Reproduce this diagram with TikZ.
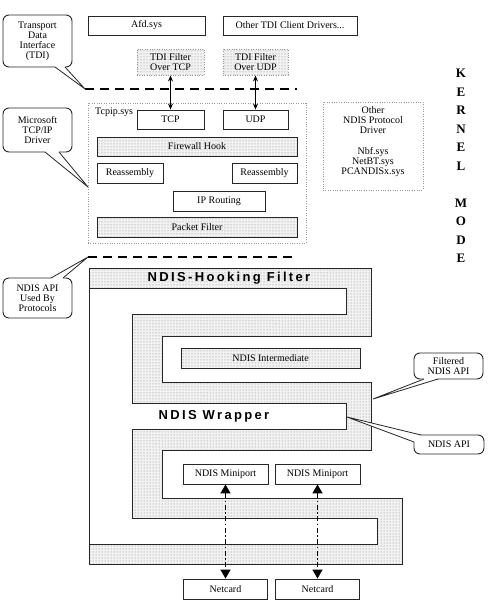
\documentclass[tikz,border=0pt]{standalone}
\usepackage{fontspec}
\setmainfont{Liberation Serif}
\newfontfamily\hookfont[LetterSpace=18]{Liberation Sans}
\usetikzlibrary{patterns,arrows.meta,calc}
\begin{document}
\begin{tikzpicture}[x=1pt,y=-1pt,
  line/.style={draw=black!85, line width=0.9pt},
  smalltext/.style={font=\fontsize{10}{10}\selectfont, align=center},
  wbox/.style={line, fill=white, inner sep=0pt, smalltext},
  hatch/.style={preaction={fill=black!5}, pattern=dots, pattern color=black!50},
  dbox/.style={wbox, hatch},
  dotbox/.style={draw=gray!80, line width=0.9pt, dash pattern=on 1pt off 1.4pt, inner sep=0pt, smalltext},
  ddbox/.style={dotbox, hatch},
  bubble/.style={line, fill=white, rounded corners=6pt, inner sep=0pt, smalltext},
  bigtitle/.style={font=\hookfont\bfseries\fontsize{13}{13}\selectfont, inner sep=0pt},
  kdash/.style={draw=black, line width=1.7pt, dash pattern=on 9pt off 6pt},
  tdiarrow/.style={draw=black, line width=0.9pt, {Stealth[width=5pt,length=6pt]}-{Stealth[width=5pt,length=6pt]}},
  nicarrow/.style={draw=black, line width=1.5pt, dash pattern=on 5pt off 2.5pt on 1.5pt off 2.5pt,
     {Triangle[width=10pt,length=9pt]}-{Triangle[width=10pt,length=9pt]}},
  wedge/.style={fill=white},
  wedgeline/.style={draw=black!85, line width=0.8pt}
]
\useasboundingbox (0,0) rectangle (500,600);

% ---------- top: TDI clients ----------
\node[wbox, minimum width=117pt, minimum height=19pt] (afd) at (146.5,25.5) {Afd.sys};
\node[wbox, minimum width=134pt, minimum height=19pt] (otdi) at (290,25.5) {Other TDI Client Drivers...};
\node[ddbox, minimum width=67pt, minimum height=26pt] (ftcp) at (170.5,62) {TDI Filter\\Over TCP};
\node[ddbox, minimum width=65pt, minimum height=26pt] (fudp) at (255.5,62) {TDI Filter\\Over UDP};

% ---------- Tcpip.sys ----------
\node[dotbox, minimum width=218pt, minimum height=140pt] (tcpip) at (197,173) {};
\node[smalltext, anchor=west, inner sep=0pt] (tcpiplbl) at (95,112) {Tcpip.sys};
\node[wbox, minimum width=67pt, minimum height=19pt] (tcp) at (170.5,119.5) {TCP};
\node[wbox, minimum width=65pt, minimum height=19pt] (udp) at (255.5,119.5) {UDP};
\node[dbox, minimum width=200pt, minimum height=19pt] (fw) at (197,146.5) {Firewall Hook};
\node[wbox, minimum width=66pt, minimum height=20pt] (reasl) at (130,173) {Reassembly};
\node[wbox, minimum width=65pt, minimum height=20pt] (reasr) at (264.5,173) {Reassembly};
\node[wbox, minimum width=92pt, minimum height=20pt] (iprt) at (219,201) {IP Routing};
\node[dbox, minimum width=200pt, minimum height=20pt] (pf) at (197,227) {Packet Filter};

\draw[tdiarrow] (ftcp.south) -- (tcp.north);
\draw[tdiarrow] (fudp.south) -- (udp.north);

% ---------- other NDIS protocol driver ----------
\node[dotbox, minimum width=100pt, minimum height=88pt] (ondis) at (373,146) {};
\node[smalltext, inner sep=0pt] (ondistxt) at (373,142) {Other\\NDIS Protocol\\Driver\\[11pt]Nbf.sys\\NetBT.sys\\PCANDISx.sys};

% ---------- KERNEL MODE ----------
\node[font=\bfseries\fontsize{13}{18.5}\selectfont, align=center, inner sep=0pt] (kmode) at (461,166)
  {K\\E\\R\\N\\E\\L\\[18.5pt]M\\O\\D\\E};

% ---------- NDIS meander ----------
\filldraw[line, hatch] (89,268) -- (371,268) -- (371,336) -- (162,336) -- (162,382) -- (371,382)
  -- (371,450) -- (162,450) -- (162,498) -- (402,498) -- (402,564) -- (89,564) -- (89,544)
  -- (377,544) -- (377,518) -- (132,518) -- (132,429) -- (346,429) -- (346,403) -- (132,403)
  -- (132,314) -- (346,314) -- (346,288) -- (89,288) -- cycle;
\draw[line] (89,288) -- (89,544);
\node[bigtitle] (hook) at (229,278) {NDIS-Hooking Filter};
\node[bigtitle] (wrap) at (214,416) {NDIS Wrapper};
\node[dbox, minimum width=179pt, minimum height=20pt] (inter) at (270.5,358) {NDIS Intermediate};
\node[wbox, minimum width=85pt, minimum height=20pt] (mp1) at (225.5,474) {NDIS Miniport};
\node[wbox, minimum width=85pt, minimum height=20pt] (mp2) at (317.5,474) {NDIS Miniport};
\node[wbox, minimum width=84pt, minimum height=20pt] (nc1) at (225.5,589) {Netcard};
\node[wbox, minimum width=84pt, minimum height=20pt] (nc2) at (317.5,589) {Netcard};
\draw[nicarrow] (mp1.south) -- (nc1.north);
\draw[nicarrow] (mp2.south) -- (nc2.north);

% ---------- callouts ----------
% TDI
\node[bubble, minimum width=69pt, minimum height=52pt] (ctdi) at (37.5,41) {Transport\\Data\\Interface\\(TDI)};
\coordinate (ttdi) at (85,89);
\coordinate (etdi) at (297,89);
\fill[wedge] (55,66.5) -- (ttdi) -- (65,66.5) -- (64,64) -- (56,64) -- cycle;
\draw[wedgeline] (55,67) -- (ttdi) -- (65,67);
\draw[kdash] (ttdi) -- (etdi);

% Microsoft TCP/IP
\node[bubble, minimum width=69pt, minimum height=44pt] (cms) at (37.5,130) {Microsoft\\TCP/IP\\Driver};
\coordinate (tms) at (88,187);
\fill[wedge] (45,151.5) -- (tms) -- (59,151.5) -- (58,149) -- (46,149) -- cycle;
\draw[wedgeline] (45,152) -- (tms) -- (59,152);

% NDIS API used by protocols
\node[bubble, minimum width=69pt, minimum height=40pt] (cused) at (37.5,298) {NDIS API\\Used By\\Protocols};
\coordinate (tused) at (88,257);
\coordinate (eused) at (297,257);
\fill[wedge] (51,278.5) -- (tused) -- (63,278.5) -- (62,281) -- (52,281) -- cycle;
\draw[wedgeline] (51,278) -- (tused) -- (63,278);
\draw[kdash] (tused) -- (eused);

% Filtered NDIS API
\node[bubble, minimum width=69pt, minimum height=26pt] (cfilt) at (448.5,366) {Filtered\\NDIS API};
\coordinate (tfilt) at (373,399);
\fill[wedge] (424,378.5) -- (tfilt) -- (438,378.5) -- (437,376) -- (425,376) -- cycle;
\draw[wedgeline] (424,379) -- (tfilt) -- (438,379);

% NDIS API
\node[bubble, minimum width=70pt, minimum height=19pt] (capi) at (449,444.5) {NDIS API};
\coordinate (tapi) at (347,417);
\fill[wedge] (414.5,442) -- (tapi) -- (421,435.5) -- (422,438) -- (417,442) -- cycle;
\draw[wedgeline] (414,442) -- (tapi) -- (421,435);
\end{tikzpicture}
\end{document}
